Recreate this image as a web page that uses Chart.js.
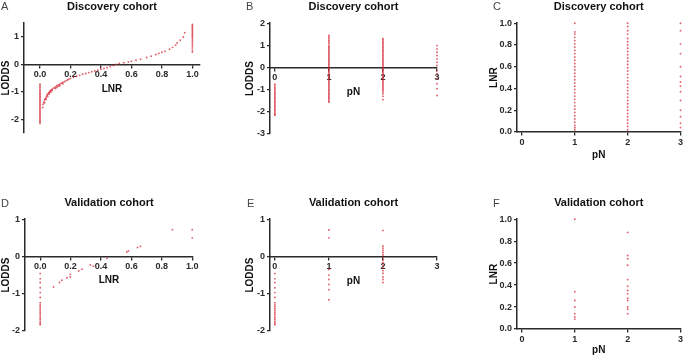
<!DOCTYPE html>
<html>
<head>
<meta charset="utf-8">
<script src="https://cdn.jsdelivr.net/npm/chart.js@4"></script>
<style>
  html, body { margin: 0; padding: 0; background: #fff; }
  #fig { position: relative; width: 685px; height: 356px; overflow: hidden; font-family: "Liberation Sans", Arial, sans-serif; }
  #fig canvas { position: absolute; }
  .tag { position: absolute; font-size: 11px; line-height: 12px; color: #444; }
</style>
</head>
<body>
<div id="fig">
  <canvas id="pA" width="215" height="165" style="left:0;top:0"></canvas>
  <canvas id="pB" width="215" height="165" style="left:230px;top:0"></canvas>
  <canvas id="pC" width="230" height="165" style="left:455px;top:0"></canvas>
  <canvas id="pD" width="215" height="166" style="left:0;top:190px"></canvas>
  <canvas id="pE" width="215" height="166" style="left:230px;top:190px"></canvas>
  <canvas id="pF" width="230" height="166" style="left:455px;top:190px"></canvas>
  <div class="tag" style="left:1px;top:0">A</div>
  <div class="tag" style="left:246px;top:0">B</div>
  <div class="tag" style="left:493px;top:0">C</div>
  <div class="tag" style="left:1px;top:197px">D</div>
  <div class="tag" style="left:247px;top:197px">E</div>
  <div class="tag" style="left:493px;top:197px">F</div>
</div>
<script>
// ---- Discovery cohort ----
// A: LNR vs LODDS
const aZeroLodds = [-0.72, -0.78, -0.84, -0.9, -0.95, -1.0, -1.05, -1.1, -1.15, -1.2, -1.25, -1.3, -1.35, -1.4, -1.45,
  -1.5, -1.55, -1.6, -1.65, -1.7, -1.75, -1.8, -1.85, -1.9, -1.95, -2.0, -2.05, -2.1, -2.15];
const aCurveLnr = [0.018, 0.02, 0.025, 0.03, 0.03, 0.035, 0.04, 0.04, 0.045, 0.05, 0.05, 0.055, 0.06, 0.06, 0.065, 0.07,
  0.07, 0.075, 0.08, 0.08, 0.09, 0.1, 0.1, 0.11, 0.11, 0.12, 0.12, 0.13, 0.13, 0.14, 0.15, 0.15, 0.16, 0.17, 0.18, 0.19,
  0.2, 0.22, 0.24, 0.26, 0.28, 0.3, 0.32, 0.34, 0.36, 0.38, 0.4, 0.42, 0.44, 0.46, 0.48, 0.5, 0.52, 0.55, 0.58, 0.6,
  0.63, 0.66, 0.7, 0.73, 0.76, 0.78, 0.8, 0.82, 0.85, 0.87, 0.89, 0.9, 0.92, 0.94, 0.95];
const aCurveLodds = [-1.57, -1.45, -1.38, -1.3, -1.4, -1.25, -1.2, -1.27, -1.13, -1.1, -1.17, -1.05, -1.02, -1.08, -0.99, -0.96,
  -1.02, -0.93, -0.9, -0.95, -0.86, -0.82, -0.88, -0.78, -0.84, -0.75, -0.8, -0.72, -0.78, -0.69, -0.66, -0.71, -0.63, -0.6, -0.57, -0.54,
  -0.51, -0.47, -0.43, -0.4, -0.36, -0.33, -0.3, -0.27, -0.24, -0.21, -0.18, -0.15, -0.12, -0.08, -0.04, 0.0, 0.03, 0.06, 0.09, 0.11,
  0.15, 0.19, 0.25, 0.3, 0.36, 0.4, 0.44, 0.48, 0.55, 0.62, 0.7, 0.78, 0.88, 1.0, 1.15];
const aOneLodds = [0.45, 0.52, 0.6, 0.68, 0.75, 0.82, 0.88, 0.94, 1.0, 1.05, 1.1, 1.15, 1.2, 1.25, 1.3, 1.35, 1.4, 1.45];

// B: pN vs LODDS
const bPn0 = [-0.75, -0.82, -0.9, -0.97, -1.03, -1.1, -1.16, -1.22, -1.28, -1.34, -1.4, -1.46, -1.52, -1.58, -1.64, -1.7,
  -1.76, -1.82, -1.88, -1.94, -2.0, -2.06, -2.12, -2.15];
const bPn1 = [1.45, 1.38, 1.3, 1.22, 1.15, 1.08, 1.0, 0.94, 0.88, 0.82, 0.76, 0.7, 0.64, 0.58, 0.52, 0.46, 0.4, 0.34, 0.28,
  0.22, 0.16, 0.1, 0.04, -0.02, -0.08, -0.14, -0.2, -0.26, -0.32, -0.38, -0.44, -0.5, -0.56, -0.62, -0.68, -0.74, -0.8,
  -0.86, -0.92, -0.98, -1.04, -1.1, -1.16, -1.22, -1.28, -1.34, -1.4, -1.46, -1.52, -1.56];
const bPn2 = [1.3, 1.24, 1.18, 1.12, 1.06, 1.0, 0.94, 0.88, 0.82, 0.76, 0.7, 0.64, 0.58, 0.52, 0.46, 0.4, 0.34, 0.28, 0.22,
  0.16, 0.1, 0.04, -0.02, -0.08, -0.14, -0.2, -0.26, -0.32, -0.38, -0.44, -0.5, -0.56, -0.62, -0.68, -0.74, -0.8, -0.86,
  -0.92, -0.98, -1.05, -1.12, -1.2, -1.3, -1.45];
const bPn3 = [0.99, 0.84, 0.69, 0.54, 0.39, 0.24, 0.09, -0.14, -0.28, -0.51, -0.73, -0.96, -1.26];

// C: pN vs LNR
const cPn1 = [1.0, 0.92, 0.9, 0.87, 0.84, 0.81, 0.78, 0.75, 0.72, 0.69, 0.66, 0.63, 0.6, 0.57, 0.54, 0.51, 0.48, 0.45,
  0.42, 0.39, 0.36, 0.33, 0.3, 0.27, 0.24, 0.21, 0.18, 0.15, 0.12, 0.09, 0.06, 0.04, 0.02];
const cPn2 = [1.0, 0.97, 0.93, 0.9, 0.86, 0.83, 0.8, 0.77, 0.74, 0.71, 0.68, 0.65, 0.62, 0.59, 0.56, 0.53, 0.5, 0.47,
  0.44, 0.41, 0.38, 0.35, 0.32, 0.29, 0.26, 0.23, 0.2, 0.17, 0.14, 0.11, 0.08, 0.05, 0.02];
const cPn3 = [1.0, 0.93, 0.81, 0.72, 0.6, 0.51, 0.46, 0.42, 0.37, 0.29, 0.2, 0.14, 0.08, 0.04];

// ---- Validation cohort ----
// D: LNR vs LODDS
const dZeroLodds = [-0.46, -0.6, -0.7, -0.84, -0.97, -1.1, -1.24, -1.3, -1.35, -1.4, -1.45, -1.5, -1.55, -1.6, -1.65,
  -1.7, -1.75, -1.8, -1.83];
const dLnr = [0.088, 0.127, 0.142, 0.176, 0.198, 0.198, 0.253, 0.275, 0.33, 0.35, 0.44, 0.57, 0.58, 0.64, 0.66, 0.87, 1.0, 1.0];
const dLodds = [-0.82, -0.7, -0.64, -0.57, -0.55, -0.48, -0.39, -0.34, -0.23, -0.26, -0.05, 0.12, 0.15, 0.24, 0.27, 0.72, 0.72, 0.5];

// E: pN vs LODDS
const ePn0 = [-0.46, -0.6, -0.7, -0.84, -0.97, -1.1, -1.24, -1.3, -1.35, -1.4, -1.45, -1.5, -1.55, -1.6, -1.65,
  -1.7, -1.75, -1.8, -1.83];
const ePn1 = [0.71, 0.5, -0.35, -0.5, -0.62, -0.75, -0.89, -1.16];
const ePn2 = [0.7, 0.28, 0.22, 0.16, 0.1, 0.04, -0.03, -0.1, -0.17, -0.24, -0.31, -0.38, -0.45, -0.55, -0.62, -0.7];

// F: pN vs LNR
const fPn1 = [1.0, 0.34, 0.26, 0.2, 0.14, 0.11, 0.09];
const fPn2 = [0.88, 0.67, 0.64, 0.58, 0.45, 0.39, 0.35, 0.32, 0.28, 0.26, 0.2, 0.18, 0.14];

// tick labels
const lnrTicks = [0, 0.2, 0.4, 0.6, 0.8, 1.0];
const pnTicks = [0, 1, 2, 3];
const loddsTicksA = [-2, -1, 0, 1];
const loddsTicksB = [-3, -2, -1, 0, 1, 2];
const loddsTicksD = [-2, -1, 0, 1];

const FONT = '"Liberation Sans", Arial, sans-serif';
const INK = '#2a2a2a';
const DOT = 'rgba(214, 38, 52, 0.72)';

function column(x, ys) { return ys.map(y => ({ x: x, y: y })); }
function pairs(xs, ys) { return xs.map((x, i) => ({ x: x, y: ys[i] })); }
function fixedTicks(values) { return scale => { scale.ticks = values.map(v => ({ value: v })); }; }
const oneDecimal = v => Number(v).toFixed(1);
const plain = v => String(v);

function axisStyle(title, fmt, ticks, titlePad) {
  return {
    type: 'linear',
    afterBuildTicks: fixedTicks(ticks),
    ticks: { color: INK, font: { family: FONT, size: 9, weight: 'bold' }, padding: 2, autoSkip: false, maxRotation: 0, callback: fmt },
    grid: { display: true, drawOnChartArea: false, drawTicks: true, tickLength: 3, color: INK, lineWidth: 1.3 },
    border: { display: true, color: INK, width: 1.5 },
    title: { display: true, text: title, color: '#111', font: { family: FONT, size: 10, weight: 'bold' }, padding: titlePad }
  };
}

function renderPanel(id, p) {
  const canvas = document.getElementById(id);
  const x = axisStyle(p.xTitle, p.xFmt, p.xTicks, { top: p.xTitleGap, bottom: 0 });
  x.position = { y: 0 };
  x.min = p.xMin; x.max = p.xMax;
  const y = axisStyle(p.yTitle, p.yFmt, p.yTicks, { top: 0, bottom: 0 });
  y.position = 'left';
  y.min = p.yMin; y.max = p.yMax;
  y.afterFit = scale => { scale.width = p.yWidth; };

  return new Chart(canvas, {
    type: 'scatter',
    data: {
      datasets: [{
        data: p.points,
        backgroundColor: DOT,
        borderWidth: 0,
        pointRadius: 0.95,
        pointHoverRadius: 0.95,
        clip: false
      }]
    },
    options: {
      responsive: false,
      animation: false,
      events: [],
      layout: { padding: p.pad },
      plugins: {
        legend: { display: false },
        tooltip: { enabled: false },
        title: {
          display: true,
          text: p.title,
          fullSize: false,
          color: '#111',
          font: { family: FONT, size: 11, weight: 'bold' },
          padding: p.titlePad
        }
      },
      scales: { x: x, y: y }
    }
  });
}

renderPanel('pA', {
  title: 'Discovery cohort', titlePad: { top: 0, bottom: 10 },
  points: column(0, aZeroLodds).concat(pairs(aCurveLnr, aCurveLodds), column(1, aOneLodds)),
  xTitle: 'LNR', xTitleGap: 1, xMin: -0.105, xMax: 1.05, xTicks: lnrTicks, xFmt: oneDecimal,
  yTitle: 'LODDS', yMin: -2.5, yMax: 1.5, yTicks: loddsTicksA, yFmt: plain,
  yWidth: 24, pad: { left: 0, right: 15, top: 0, bottom: 32 }
});

renderPanel('pB', {
  title: 'Discovery cohort', titlePad: { top: 0, bottom: 10 },
  points: column(0, bPn0).concat(column(1, bPn1), column(2, bPn2), column(3, bPn3)),
  xTitle: 'pN', xTitleGap: 1, xMin: -0.09, xMax: 3, xTicks: pnTicks, xFmt: plain,
  yTitle: 'LODDS', yMin: -3, yMax: 2, yTicks: loddsTicksB, yFmt: plain,
  yWidth: 26, pad: { left: 14, right: 8, top: 0, bottom: 31 }
});

renderPanel('pC', {
  title: 'Discovery cohort', titlePad: { top: 0, bottom: 10 },
  points: column(1, cPn1).concat(column(2, cPn2), column(3, cPn3)),
  xTitle: 'pN', xTitleGap: -1, xMin: -0.094, xMax: 3, xTicks: pnTicks, xFmt: plain,
  yTitle: 'LNR', yMin: 0, yMax: 1, yTicks: lnrTicks, yFmt: oneDecimal,
  yWidth: 29, pad: { left: 33, right: 4, top: 0, bottom: 33 }
});

renderPanel('pD', {
  title: 'Validation cohort', titlePad: { top: 6, bottom: 10 },
  points: column(0, dZeroLodds).concat(pairs(dLnr, dLodds)),
  xTitle: 'LNR', xTitleGap: 0, xMin: -0.1, xMax: 1.005, xTicks: lnrTicks, xFmt: oneDecimal,
  yTitle: 'LODDS', yMin: -2, yMax: 1, yTicks: loddsTicksD, yFmt: plain,
  yWidth: 25, pad: { left: 0, right: 22, top: 0, bottom: 25 }
});

renderPanel('pE', {
  title: 'Validation cohort', titlePad: { top: 6, bottom: 10 },
  points: column(0, ePn0).concat(column(1, ePn1), column(2, ePn2)),
  xTitle: 'pN', xTitleGap: 1, xMin: -0.09, xMax: 3, xTicks: pnTicks, xFmt: plain,
  yTitle: 'LODDS', yMin: -2, yMax: 1, yTicks: loddsTicksD, yFmt: plain,
  yWidth: 26, pad: { left: 14, right: 8, top: 0, bottom: 25 }
});

renderPanel('pF', {
  title: 'Validation cohort', titlePad: { top: 6, bottom: 10 },
  points: column(1, fPn1).concat(column(2, fPn2)),
  xTitle: 'pN', xTitleGap: -3, xMin: -0.094, xMax: 3, xTicks: pnTicks, xFmt: plain,
  yTitle: 'LNR', yMin: 0, yMax: 1, yTicks: lnrTicks, yFmt: oneDecimal,
  yWidth: 29, pad: { left: 33, right: 4, top: 0, bottom: 27 }
});
</script>
</body>
</html>
